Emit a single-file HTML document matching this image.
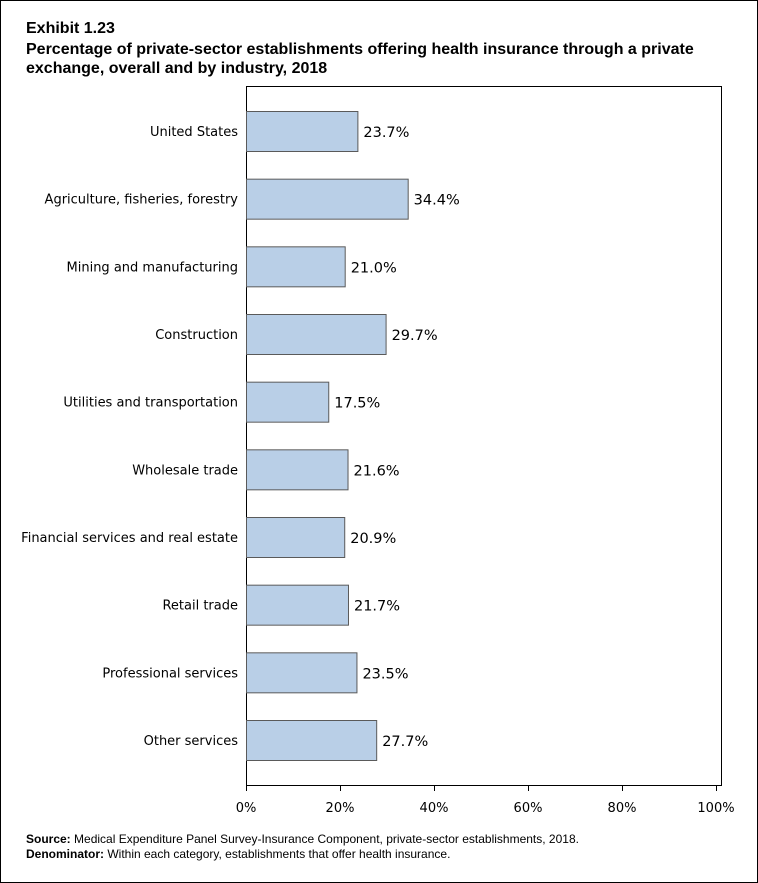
<!DOCTYPE html>
<html><head><meta charset="utf-8"><style>
body{margin:0;background:#fff}
#wrap{position:relative;width:756px;height:881px;border:1px solid #000;font-family:"Liberation Sans",sans-serif}
.t{position:absolute;left:25px;font-weight:bold;font-size:16px;color:#000}
.foot{position:absolute;left:25px;font-size:12px}
</style></head><body>
<div id="wrap">
<div class="t" style="top:19px">Exhibit 1.23</div>
<div class="t" style="top:39px;line-height:19px;width:720px">Percentage of private-sector establishments offering health insurance through a private exchange, overall and by industry, 2018</div>
<svg id="chart" width="756" height="830" style="position:absolute;left:0;top:0"></svg>
<div class="foot" style="top:831px"><b>Source:</b> Medical Expenditure Panel Survey-Insurance Component, private-sector establishments, 2018.</div>
<div class="foot" style="top:846px"><b>Denominator:</b> Within each category, establishments that offer health insurance.</div>
</div>
<script>
const categories=["United States","Agriculture, fisheries, forestry","Mining and manufacturing","Construction","Utilities and transportation","Wholesale trade","Financial services and real estate","Retail trade","Professional services","Other services"];
const values=[23.7,34.4,21.0,29.7,17.5,21.6,20.9,21.7,23.5,27.7];
const ticks=[0,20,40,60,80,100];
const ns="http://www.w3.org/2000/svg";
const svg=document.getElementById('chart');
const X0=245,X1=715,Y0=85,Y1=784,XR=720,PAD=45;
const x=v=>X0+(v/100)*(X1-X0);
const step=(Y1-Y0-2*PAD)/(categories.length-1);
const yc=i=>Y0+PAD+step*i;
function mk(t,a){const e=document.createElementNS(ns,t);for(const k in a)e.setAttribute(k,a[k]);svg.appendChild(e);return e;}
const f=mk('rect',{x:X0+0.5,y:Y0+0.5,width:XR-X0,height:Y1-Y0,fill:'none',stroke:'#000'});


categories.forEach((c,i)=>{
  const y=yc(i);
  const r=mk('rect',{x:X0+0.5,y:y-20+0.5,width:x(values[i])-X0,height:40,fill:'#b9cfe7',stroke:'#5a5a5a'});
  
  
  const l=mk('text',{x:X0-8,y:y+5,'text-anchor':'end','font-size':'13','font-family':'DejaVu Sans, Liberation Sans, sans-serif'});
  l.textContent=c;
  
  
  const v=mk('text',{x:x(values[i])+6,y:y+6,'font-size':'14.5','font-family':'DejaVu Sans, Liberation Sans, sans-serif'});
  v.textContent=values[i].toFixed(1)+'%';
  
  
});
ticks.forEach(t=>{
  const tk=mk('line',{x1:x(t)+0.5,x2:x(t)+0.5,y1:Y1,y2:Y1+6,stroke:'#000'});
  
  
  const tl=mk('text',{x:x(t),y:Y1+27,'text-anchor':'middle','font-size':'13','font-family':'DejaVu Sans, Liberation Sans, sans-serif'});
  tl.textContent=t+'%';
  
  
});
</script>
</body></html>
